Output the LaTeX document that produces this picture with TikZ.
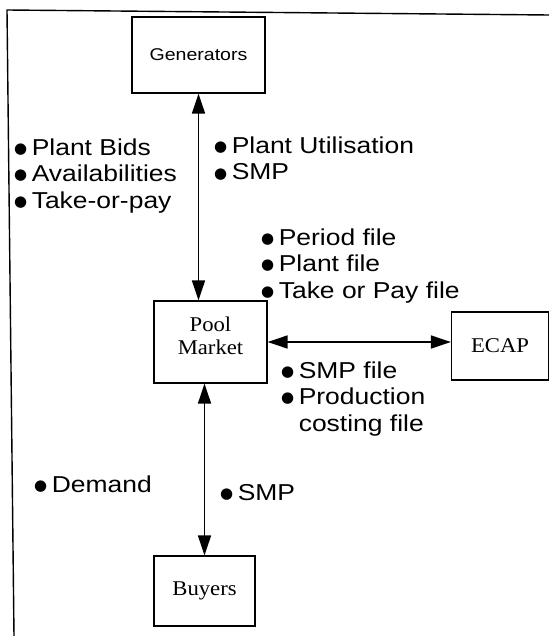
\documentclass[tikz,border=0pt]{standalone}
\usepackage{fontspec}
\setmainfont{Liberation Sans}
\newfontfamily\lblfont[FakeStretch=1.15]{Liberation Sans}
\newfontfamily\boxfont[FakeStretch=1.08]{Liberation Serif}
\newfontfamily\dotfont{DejaVu Sans}
\usetikzlibrary{arrows.meta, positioning}
% round bullet in front of each flow item
\newcommand\pmdot{\raisebox{1.8pt}{\dotfont\fontsize{15}{15}\selectfont ●}\hspace{4.5pt}}
\tikzset{
  pmbox/.style={
    rectangle, draw, line width=1.2pt, fill=white, align=center,
    inner sep=0pt, font=\boxfont\fontsize{21}{23}\selectfont},
  pmarr/.style={{Triangle[length=20pt,width=13pt]}-{Triangle[length=20pt,width=13pt]},
    line width=1.6pt},
  pmlist/.style={anchor=base west, align=left, inner sep=0pt,
    font=\lblfont\fontsize{23}{26.5}\selectfont},
}

\begin{document}
\begin{tikzpicture}[x=1pt, y=-1pt]
  \useasboundingbox (0,0) rectangle (549,636);
  % frame
  \draw[line width=1.4pt] (14,636) -- (7,10) -- (549,15);

  \node[pmbox, minimum width=133pt, minimum height=76pt,
        font=\lblfont\fontsize{17}{19}\selectfont] (gen) at (198.5,55) {Generators};
  \node[pmbox, minimum width=113pt, minimum height=82pt, text depth=12pt] (pool) at (210.5,342) {Pool\\Market};
  \node[pmbox, minimum width=97pt, minimum height=68pt] (ecap) at (500,346) {ECAP};
  \node[pmbox, minimum width=101pt, minimum height=70pt] (buy) at (204.5,591) {Buyers};

  \draw[pmarr] (gen.south) -- (gen.south |- pool.north);
  \draw[pmarr] (pool.east) -- (pool.east -| ecap.west);
  \draw[pmarr] (buy.north |- pool.south) -- (buy.north);

  % flows (base = last line)
  \node[pmlist] (bids) at (14,208) {\pmdot Plant Bids\\\pmdot Availabilities\\\pmdot Take-or-pay};
  \node[pmlist] (util) at (214,180) {\pmdot Plant Utilisation\\\pmdot SMP};
  \node[pmlist] (files) at (261,298) {\pmdot Period file\\\pmdot Plant file\\\pmdot Take or Pay file};
  \node[pmlist] (smpf) at (281,431) {\pmdot SMP file\\\pmdot Production\\\phantom{\pmdot}costing file};
  \node[pmlist] (dem) at (34,492) {\pmdot Demand};
  \node[pmlist] (smpb) at (220,500) {\pmdot SMP};
\end{tikzpicture}
\end{document}
